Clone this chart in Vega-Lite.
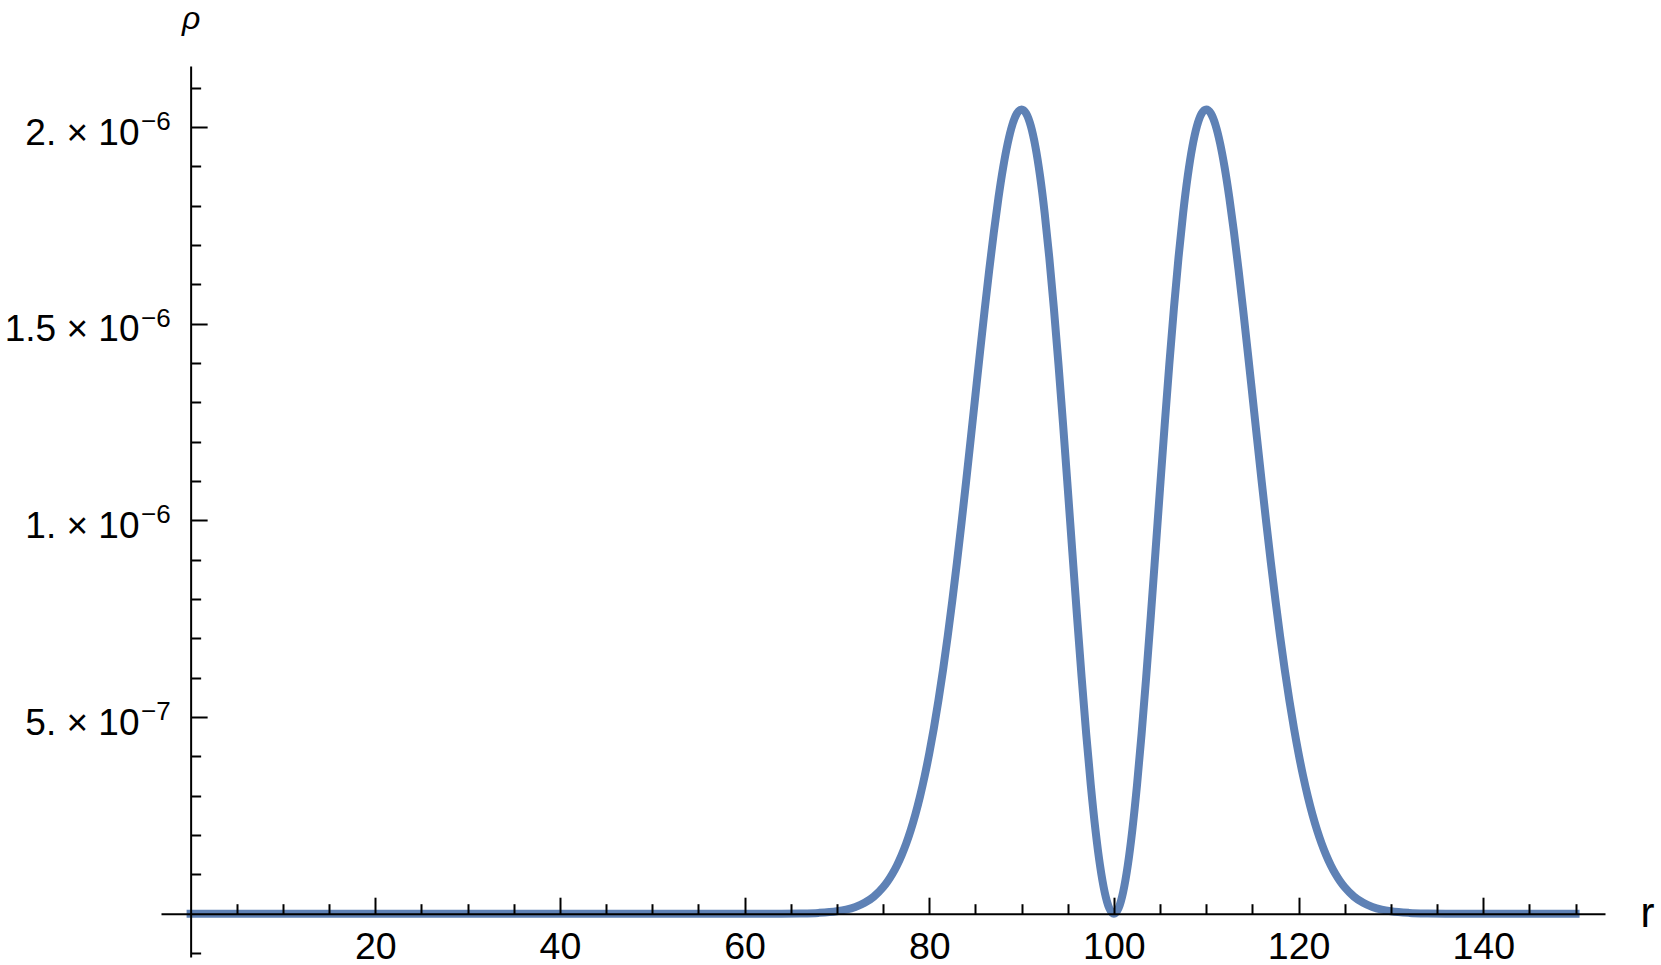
{
  "$schema": "https://vega.github.io/schema/vega-lite/v6.json",
  "autosize": {"type": "none"},
  "padding": {"left": 161, "top": 66, "right": 56, "bottom": 8},
  "width": 1444,
  "height": 891,
  "background": "white",
  "config": {"view": {"stroke": null}},
  "data": {"values": [
    {"r": 0, "rho": 0}, {"r": 10, "rho": 0}, {"r": 20, "rho": 0}, {"r": 30, "rho": 0}, {"r": 40, "rho": 0}, {"r": 50, "rho": 0}, {"r": 60, "rho": 0},
    {"r": 62, "rho": 4e-11}, {"r": 64, "rho": 1.7e-10}, {"r": 66, "rho": 6.1e-10}, {"r": 68, "rho": 2.03e-9}, {"r": 70, "rho": 6.17e-9},
    {"r": 71, "rho": 1.041e-8}, {"r": 72, "rho": 1.716e-8}, {"r": 73, "rho": 2.765e-8}, {"r": 74, "rho": 4.356e-8}, {"r": 75, "rho": 6.707e-8},
    {"r": 75.5, "rho": 8.25e-8}, {"r": 76, "rho": 1.0091e-7}, {"r": 76.5, "rho": 1.2271e-7}, {"r": 77, "rho": 1.4832e-7}, {"r": 77.5, "rho": 1.7816e-7},
    {"r": 78, "rho": 2.1274e-7}, {"r": 78.5, "rho": 2.5252e-7}, {"r": 79, "rho": 2.9794e-7}, {"r": 79.5, "rho": 3.4938e-7}, {"r": 80, "rho": 4.0726e-7},
    {"r": 80.5, "rho": 4.7165e-7}, {"r": 81, "rho": 5.4287e-7}, {"r": 81.5, "rho": 6.2078e-7}, {"r": 82, "rho": 7.0538e-7}, {"r": 82.5, "rho": 7.9632e-7},
    {"r": 83, "rho": 8.9283e-7}, {"r": 83.5, "rho": 9.9447e-7}, {"r": 84, "rho": 1.10012e-6}, {"r": 84.5, "rho": 1.20853e-6}, {"r": 85, "rho": 1.31826e-6},
    {"r": 85.5, "rho": 1.42764e-6}, {"r": 86, "rho": 1.5347e-6}, {"r": 86.5, "rho": 1.63743e-6}, {"r": 87, "rho": 1.73349e-6}, {"r": 87.5, "rho": 1.82062e-6},
    {"r": 88, "rho": 1.89657e-6}, {"r": 88.5, "rho": 1.95891e-6}, {"r": 89, "rho": 2.00574e-6}, {"r": 89.5, "rho": 2.03497e-6}, {"r": 90, "rho": 2.045e-6},
    {"r": 90.5, "rho": 2.0346e-6}, {"r": 91, "rho": 2.00298e-6}, {"r": 91.5, "rho": 1.95002e-6}, {"r": 92, "rho": 1.8759e-6}, {"r": 92.5, "rho": 1.7816e-6},
    {"r": 93, "rho": 1.66871e-6}, {"r": 93.5, "rho": 1.53932e-6}, {"r": 94, "rho": 1.3962e-6}, {"r": 94.5, "rho": 1.24261e-6}, {"r": 95, "rho": 1.08232e-6},
    {"r": 95.5, "rho": 9.1929e-7}, {"r": 96, "rho": 7.5793e-7}, {"r": 96.5, "rho": 6.0243e-7}, {"r": 97, "rho": 4.5724e-7}, {"r": 97.5, "rho": 3.2638e-7},
    {"r": 98, "rho": 2.1364e-7}, {"r": 98.5, "rho": 1.2229e-7}, {"r": 99, "rho": 5.504e-8}, {"r": 99.5, "rho": 1.386e-8}, {"r": 100, "rho": 0},
    {"r": 100.5, "rho": 1.386e-8}, {"r": 101, "rho": 5.504e-8}, {"r": 101.5, "rho": 1.2229e-7}, {"r": 102, "rho": 2.1364e-7}, {"r": 102.5, "rho": 3.2638e-7},
    {"r": 103, "rho": 4.5724e-7}, {"r": 103.5, "rho": 6.0243e-7}, {"r": 104, "rho": 7.5793e-7}, {"r": 104.5, "rho": 9.1929e-7}, {"r": 105, "rho": 1.08232e-6},
    {"r": 105.5, "rho": 1.24261e-6}, {"r": 106, "rho": 1.3962e-6}, {"r": 106.5, "rho": 1.53932e-6}, {"r": 107, "rho": 1.66871e-6}, {"r": 107.5, "rho": 1.7816e-6},
    {"r": 108, "rho": 1.8759e-6}, {"r": 108.5, "rho": 1.95002e-6}, {"r": 109, "rho": 2.00298e-6}, {"r": 109.5, "rho": 2.0346e-6}, {"r": 110, "rho": 2.045e-6},
    {"r": 110.5, "rho": 2.03497e-6}, {"r": 111, "rho": 2.00574e-6}, {"r": 111.5, "rho": 1.95891e-6}, {"r": 112, "rho": 1.89657e-6}, {"r": 112.5, "rho": 1.82062e-6},
    {"r": 113, "rho": 1.73349e-6}, {"r": 113.5, "rho": 1.63743e-6}, {"r": 114, "rho": 1.5347e-6}, {"r": 114.5, "rho": 1.42764e-6}, {"r": 115, "rho": 1.31826e-6},
    {"r": 115.5, "rho": 1.20853e-6}, {"r": 116, "rho": 1.10012e-6}, {"r": 116.5, "rho": 9.9447e-7}, {"r": 117, "rho": 8.9283e-7}, {"r": 117.5, "rho": 7.9632e-7},
    {"r": 118, "rho": 7.0538e-7}, {"r": 118.5, "rho": 6.2078e-7}, {"r": 119, "rho": 5.4287e-7}, {"r": 119.5, "rho": 4.7165e-7}, {"r": 120, "rho": 4.0726e-7},
    {"r": 120.5, "rho": 3.4938e-7}, {"r": 121, "rho": 2.9794e-7}, {"r": 121.5, "rho": 2.5252e-7}, {"r": 122, "rho": 2.1274e-7}, {"r": 122.5, "rho": 1.7816e-7},
    {"r": 123, "rho": 1.4832e-7}, {"r": 123.5, "rho": 1.2271e-7}, {"r": 124, "rho": 1.0091e-7}, {"r": 124.5, "rho": 8.25e-8}, {"r": 125, "rho": 6.707e-8},
    {"r": 126, "rho": 4.356e-8}, {"r": 127, "rho": 2.765e-8}, {"r": 128, "rho": 1.716e-8}, {"r": 129, "rho": 1.041e-8}, {"r": 130, "rho": 6.17e-9},
    {"r": 132, "rho": 2.03e-9}, {"r": 134, "rho": 6.1e-10}, {"r": 136, "rho": 1.7e-10}, {"r": 138, "rho": 4e-11}, {"r": 140, "rho": 0}, {"r": 150, "rho": 0}
  ]},
  "layer": [
    {
      "mark": {"type": "line", "color": "#5E81B5", "strokeWidth": 8, "interpolate": "monotone", "strokeCap": "square", "strokeJoin": "round"},
      "encoding": {
        "x": {
          "field": "r", "type": "quantitative",
          "scale": {"domain": [-3.206, 153.19], "nice": false, "zero": false},
          "axis": {
            "orient": "bottom", "offset": -43.3, "zindex": 1, "grid": false,
            "values": [5, 10, 15, 20, 25, 30, 35, 40, 45, 50, 55, 60, 65, 70, 75, 80, 85, 90, 95, 100, 105, 110, 115, 120, 125, 130, 135, 140, 145, 150],
            "tickSize": {"condition": {"test": "datum.value % 20 === 0", "value": -16.5}, "value": -10},
            "tickColor": "black", "tickWidth": 2,
            "domainColor": "black", "domainWidth": 2,
            "format": "d",
            "labelExpr": "datum.value % 20 === 0 ? datum.label : ''",
            "labelFont": "Liberation Sans", "labelFontSize": 37.5, "labelColor": "black",
            "labelBaseline": "alphabetic", "labelPadding": 61.3, "labelOverlap": false, "labelFlush": false,
            "title": "r", "titleFont": "Liberation Sans", "titleFontSize": 42, "titleFontWeight": "normal", "titleColor": "black",
            "titleX": 1479, "titleY": 12.8, "titleAlign": "left", "titleBaseline": "alphabetic", "titleAngle": 0
          }
        },
        "y": {
          "field": "rho", "type": "quantitative",
          "scale": {"domain": [-1.101e-7, 2.1553e-6], "nice": false, "zero": false},
          "axis": {
            "orient": "left", "offset": -29.63, "zindex": 1, "grid": false,
            "values": [-1e-7, 1e-7, 2e-7, 3e-7, 4e-7, 5e-7, 6e-7, 7e-7, 8e-7, 9e-7, 1e-6, 1.1e-6, 1.2e-6, 1.3e-6, 1.4e-6, 1.5e-6, 1.6e-6, 1.7e-6, 1.8e-6, 1.9e-6, 2e-6, 2.1e-6],
            "tickSize": {"condition": {"test": "abs(datum.value*2e6 - round(datum.value*2e6)) < 0.001", "value": -16.5}, "value": -10},
            "tickColor": "black", "tickWidth": 2,
            "domainColor": "black", "domainWidth": 2,
            "labelExpr": "abs(datum.value-5e-7)<1e-9 ? '5. × 10' : abs(datum.value-1e-6)<1e-9 ? '1. × 10' : abs(datum.value-1.5e-6)<1e-9 ? '1.5 × 10' : abs(datum.value-2e-6)<1e-9 ? '2. × 10' : ''",
            "labelFont": "Liberation Sans", "labelFontSize": 37, "labelColor": "black",
            "labelAlign": "right", "labelBaseline": "alphabetic", "labelOffset": 17, "labelPadding": 68.1,
            "labelOverlap": false, "labelFlush": false,
            "title": "ρ", "titleFont": "Liberation Sans", "titleFontSize": 32, "titleFontStyle": "italic", "titleFontWeight": "normal", "titleColor": "black",
            "titleAngle": 0, "titleX": 0, "titleY": -38, "titleAlign": "center", "titleBaseline": "alphabetic"
          }
        }
      }
    },
    {
      "mark": {"type": "line", "strokeOpacity": 0, "strokeWidth": 0},
      "encoding": {
        "x": {"field": "r", "type": "quantitative", "scale": {"domain": [-3.206, 153.19], "nice": false, "zero": false}, "axis": null},
        "y": {
          "field": "rho", "type": "quantitative",
          "scale": {"domain": [-1.101e-7, 2.1553e-6], "nice": false, "zero": false},
          "axis": {
            "orient": "left", "offset": -29.63, "zindex": 1, "grid": false, "domain": false, "ticks": false, "tickSize": 0,
            "values": [5e-7, 1e-6, 1.5e-6, 2e-6],
            "labelExpr": "datum.value < 7e-7 ? '−7' : '−6'",
            "labelFont": "Liberation Sans", "labelFontSize": 26, "labelColor": "black",
            "labelAlign": "left", "labelBaseline": "alphabetic", "labelOffset": 2.3, "labelPadding": 50.1,
            "labelOverlap": false, "labelFlush": false,
            "title": null
          }
        }
      }
    }
  ],
  "resolve": {"axis": {"x": "independent", "y": "independent"}}
}
